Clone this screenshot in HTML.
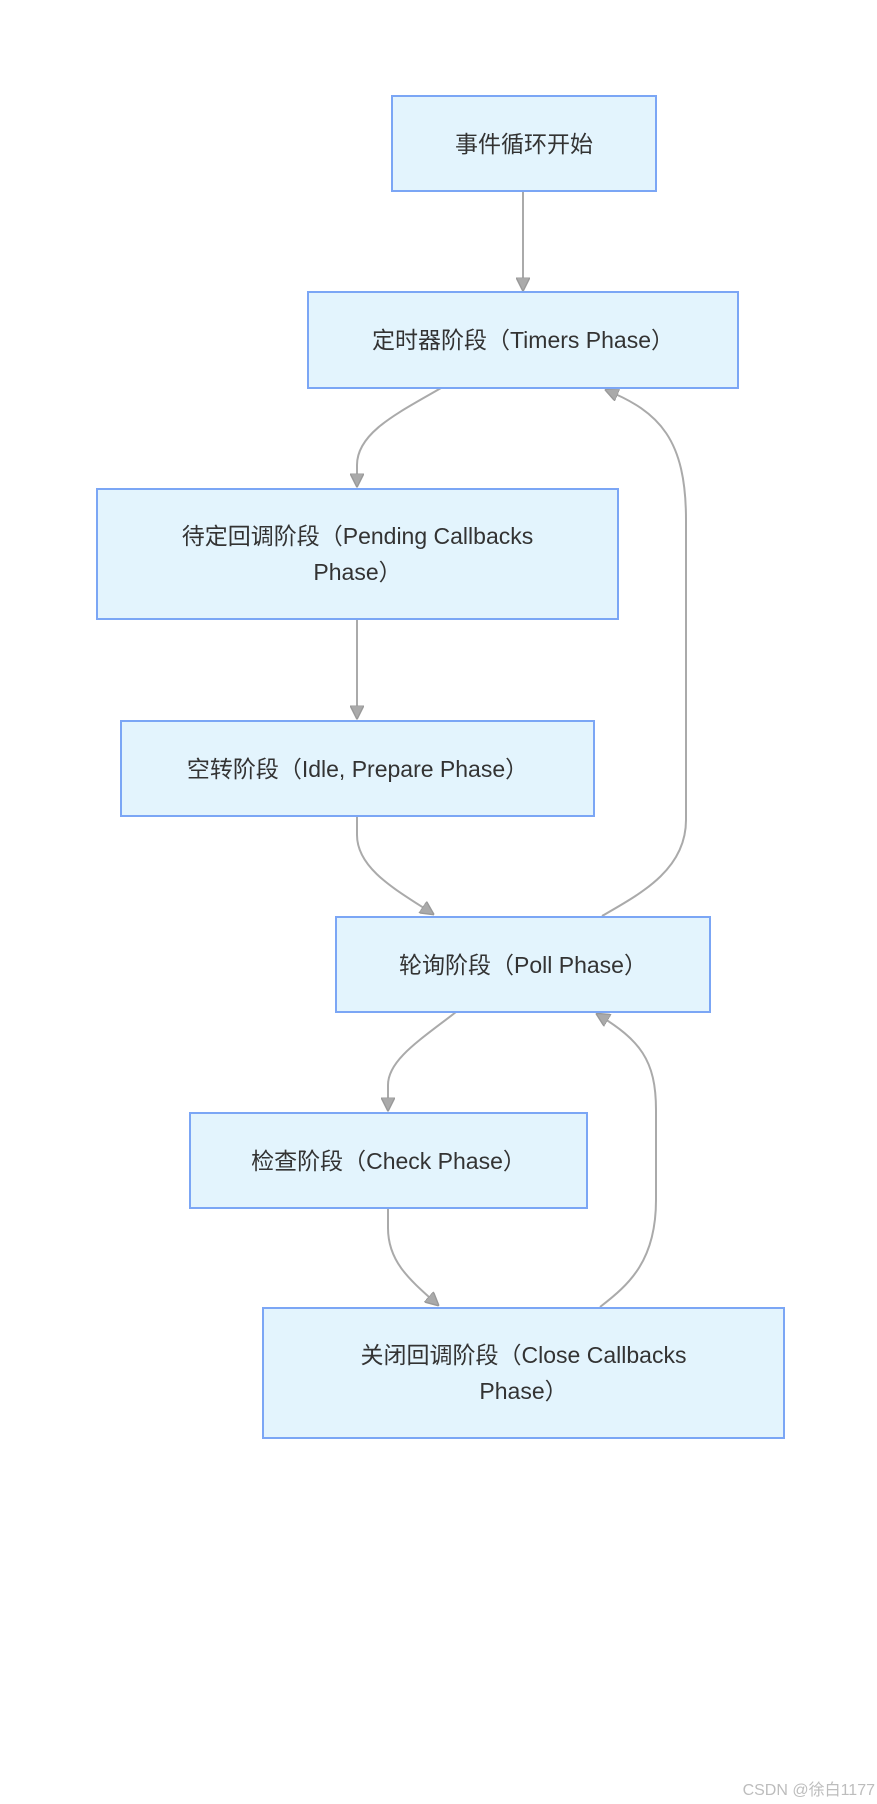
<!DOCTYPE html>
<html><head><meta charset="utf-8"><style>
html,body{margin:0;padding:0;background:#fff;}
body{width:877px;height:1804px;position:relative;overflow:hidden;font-family:"Liberation Sans","Noto Sans CJK SC",sans-serif;}
.n{position:absolute;box-sizing:border-box;background:#e3f4fd;border:2px solid #7ba6f5;color:#333;font-size:23px;display:flex;align-items:center;justify-content:center;text-align:center;line-height:36px;}
.wm{position:absolute;right:2px;top:1776px;font-size:16px;color:#bdbdbd;}
svg{position:absolute;left:0;top:0;}
</style></head><body>
<svg width="877" height="1804" viewBox="0 0 877 1804">
<defs>
<marker id="b" viewBox="0 0 10 10" refX="9" refY="5" markerWidth="14" markerHeight="14" orient="auto" markerUnits="userSpaceOnUse"><path d="M0,0 L10,5 L0,10 z" fill="#aaa" stroke="#999" stroke-width="1"/></marker></defs>
<g fill="none" stroke="#aaa" stroke-width="2">
<path d="M523,192 L523,290" marker-end="url(#b)"/>
<path d="M441,388 C400,412 357,432 357,465 L357,486" marker-end="url(#b)"/>
<path d="M357,620 L357,718" marker-end="url(#b)"/>
<path d="M357,816 L357,835 C357,870 400,892 433,914" marker-end="url(#b)"/>
<path d="M602,916 C640,894 686,870 686,820 L686,520 C686,440 660,412 606,390" marker-end="url(#b)"/>
<path d="M456,1012 C420,1040 388,1060 388,1085 L388,1110" marker-end="url(#b)"/>
<path d="M388,1208 L388,1228 C388,1262 410,1280 438,1305" marker-end="url(#b)"/>
<path d="M600,1307 C630,1284 656,1260 656,1200 L656,1110 C656,1060 640,1040 597,1014" marker-end="url(#b)"/>
</g>
</svg>
<div class="n" style="left:391px;top:95px;width:266px;height:97px;">事件循环开始</div>
<div class="n" style="left:307px;top:291px;width:432px;height:98px;">定时器阶段（Timers Phase）</div>
<div class="n" style="left:96px;top:488px;width:523px;height:132px;"><div style="width:380px">待定回调阶段（Pending Callbacks Phase）</div></div>
<div class="n" style="left:120px;top:720px;width:475px;height:97px;">空转阶段（Idle, Prepare Phase）</div>
<div class="n" style="left:335px;top:916px;width:376px;height:97px;">轮询阶段（Poll Phase）</div>
<div class="n" style="left:189px;top:1112px;width:399px;height:97px;">检查阶段（Check Phase）</div>
<div class="n" style="left:262px;top:1307px;width:523px;height:132px;"><div style="width:380px">关闭回调阶段（Close Callbacks Phase）</div></div>
<div class="wm">CSDN @徐白1177</div>
</body></html>
